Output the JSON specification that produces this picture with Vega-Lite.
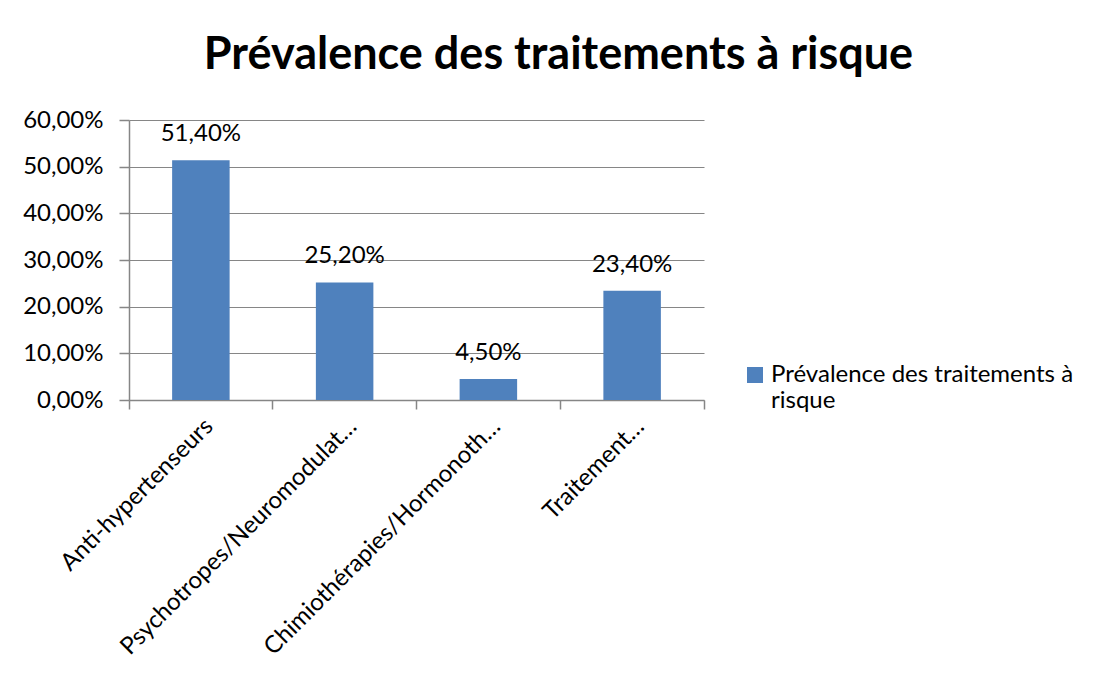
{
  "$schema": "https://vega.github.io/schema/vega-lite/v6.json",
  "autosize": "none",
  "width": 575,
  "height": 280,
  "padding": {"left": 129, "top": 120, "right": 403, "bottom": 275},
  "background": "white",
  "config": {
    "font": "Lato",
    "view": {"stroke": null},
    "locale": {"number": {"decimal": ",", "thousands": " ", "grouping": [3], "currency": ["", " €"]}},
    "title": {"font": "Lato", "fontSize": 45, "fontWeight": "bold", "color": "#000000"}
  },
  "title": {"text": "Prévalence des traitements à risque", "dx": 142, "offset": 30},
  "data": {
    "values": [
      {"traitement": "Anti-hypertenseurs", "prevalence": 0.514, "serie": "Prévalence des traitements à risque"},
      {"traitement": "Psychotropes/Neuromodulat…", "prevalence": 0.252, "serie": "Prévalence des traitements à risque"},
      {"traitement": "Chimiothérapies/Hormonoth…", "prevalence": 0.045, "serie": "Prévalence des traitements à risque"},
      {"traitement": "Traitement…", "prevalence": 0.234, "serie": "Prévalence des traitements à risque"}
    ]
  },
  "encoding": {
    "x": {"field": "traitement", "type": "nominal", "sort": null,
      "scale": {"paddingInner": 0, "paddingOuter": 0}},
    "y": {"field": "prevalence", "type": "quantitative",
      "scale": {"domain": [0, 0.6], "nice": false},
      "axis": {"title": null, "format": ".2%", "values": [0, 0.1, 0.2, 0.3, 0.4, 0.5, 0.6],
        "domainColor": "#868686", "domainWidth": 1.5, "gridColor": "#868686", "gridWidth": 1.2,
        "tickColor": "#868686", "tickSize": 10, "tickWidth": 1.5, "labelPadding": 16,
        "labelFont": "Lato", "labelFontSize": 24, "labelColor": "#000000"}}
  },
  "layer": [
    {
      "mark": {"type": "bar", "width": {"band": 0.4}},
      "encoding": {
        "x": {"field": "traitement", "type": "nominal", "sort": null,
          "axis": {"title": null, "orient": "bottom", "labelAngle": -45, "labelFontSize": 24, "labelFont": "Lato", "labelColor": "#000000",
            "labelLimit": 600, "ticks": false, "domain": false, "labelPadding": 14}},
        "color": {"field": "serie", "type": "nominal",
          "scale": {"range": ["#4F81BD"]},
          "legend": {"title": null, "orient": "none", "legendX": 614, "legendY": 243,
            "symbolType": "square", "symbolSize": 256, "symbolStrokeWidth": 0, "symbolOpacity": 1,
            "labelFont": "Lato", "labelFontSize": 24, "labelColor": "#000000", "labelLimit": 500,
            "labelExpr": "['Prévalence des traitements à', 'risque']", "labelBaseline": "top", "labelOffset": 4,
            "labelLineHeight": 31,
            "encode": {"labels": {"update": {"dy": {"value": -12}}}}}}
      }
    },
    {
      "mark": {"type": "text", "baseline": "bottom", "dy": -14, "fontSize": 24, "font": "Lato", "color": "#000000"},
      "encoding": {
        "x": {"field": "traitement", "type": "nominal", "sort": null,
          "axis": {"title": null, "orient": "bottom", "labels": false, "bandPosition": 1, "tickExtra": true,
            "domainColor": "#868686", "domainWidth": 1.5, "tickColor": "#868686", "tickSize": 9, "tickWidth": 1.5}},
        "text": {"field": "prevalence", "type": "quantitative", "format": ".2%"}
      }
    }
  ],
  "resolve": {"axis": {"x": "independent"}}
}
